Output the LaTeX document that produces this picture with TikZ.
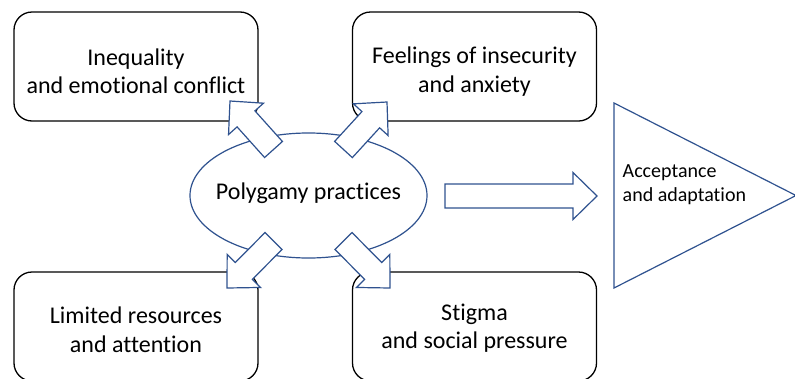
\documentclass[tikz,border=0pt]{standalone}
\usepackage{fontspec}
\setmainfont{Carlito}[Ligatures=NoCommon]
\usetikzlibrary{calc,shapes.geometric}
\definecolor{accent}{HTML}{2F528F}
\tikzset{
  box/.style={draw=black, line width=1.3pt, rounded corners=18pt,
    minimum width=244pt, minimum height=109pt, inner sep=0pt},
  boxtext/.style={align=center, font=\fontsize{24}{28.5}\selectfont, inner sep=0pt},
  blueline/.style={draw=accent, line width=1.2pt, fill=white},
  barrow/.style={blueline, line join=miter},
}
\newcommand\blockarrow[2]{%
  \coordinate (#1-#2-h) at ($(#2)!24pt!(#1)$);
  \draw[barrow] ($(#1)!12pt!90:(#2)$)
    -- ($(#1-#2-h)!12pt!-90:(#1)$)
    -- ($(#1-#2-h)!23.5pt!-90:(#1)$)
    -- (#2)
    -- ($(#1-#2-h)!23.5pt!90:(#1)$)
    -- ($(#1-#2-h)!12pt!90:(#1)$)
    -- ($(#1)!12pt!-90:(#2)$) -- cycle;}
\begin{document}
\begin{tikzpicture}[x=1pt,y=-1pt]
\useasboundingbox (0,0) rectangle (795,378);
\clip (0,0) rectangle (795,378);
\node[box] (ineq) at (136,66.5) {};
\node[box] (feel) at (474.5,66.5) {};
\node[box] (lim) at (136,326.5) {};
\node[box] (stig) at (474.5,326.5) {};
\node[boxtext] (ineq-t) at (136,71.5) {Inequality\\and emotional conflict};
\node[boxtext] (feel-t) at (474.5,71.5) {Feelings of insecurity\\and anxiety};
\node[boxtext] (lim-t) at (136,329.5) {Limited resources\\and attention};
\node[boxtext] (stig-t) at (474.5,328) {Stigma\\and social pressure};
\node[ellipse, blueline, minimum width=237pt, minimum height=125pt, inner sep=0pt] (poly) at (308.5,195.5) {};
\node[font=\fontsize{24}{28.5}\selectfont, inner sep=0pt, anchor=base] (polytext) at (308.5,199) {Polygamy practices};
\coordinate (triTop) at (614,103);
\coordinate (triTip) at (796,195.5);
\coordinate (triBot) at (614,288);
\draw[blueline] (triTop) -- (triTip) -- (triBot) -- cycle;
\node[anchor=west, align=left, font=\fontsize{20}{24}\selectfont, inner sep=0pt] (acc) at (622.5,184.5) {Acceptance\\and adaptation};
\coordinate (ulS) at (273.5,149.5); \coordinate (ulE) at (230,101);
\coordinate (urS) at (343.5,149.5); \coordinate (urE) at (387,102);
\coordinate (dlS) at (273.5,241);   \coordinate (dlE) at (227,288);
\coordinate (drS) at (343.5,241);   \coordinate (drE) at (390,288);
\coordinate (rS) at (445,196);      \coordinate (rE) at (597,196);
\blockarrow{ulS}{ulE}
\blockarrow{urS}{urE}
\blockarrow{dlS}{dlE}
\blockarrow{drS}{drE}
\blockarrow{rS}{rE}
\end{tikzpicture}
\end{document}
